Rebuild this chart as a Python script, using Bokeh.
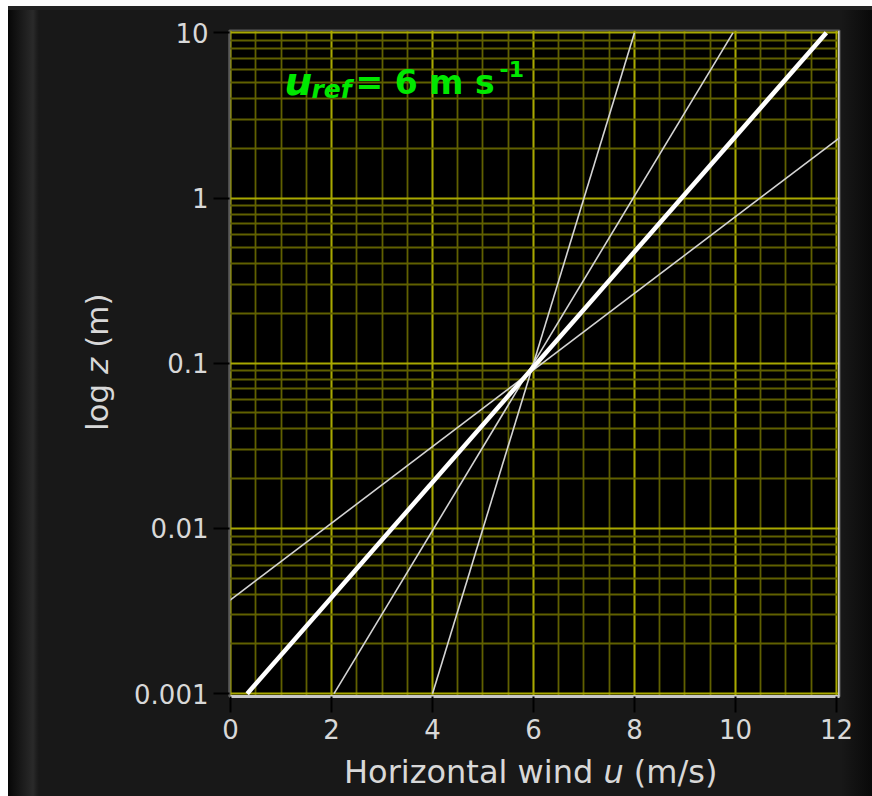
import math
from bokeh.plotting import figure
from bokeh.models import Label, Span, FixedTicker, SingleIntervalTicker, Range1d, Div
from bokeh.layouts import row, column
from bokeh.embed import file_html
from bokeh.resources import INLINE

# ---------------- data ----------------
Z_ENDS = [0.001, 10]            # heights (m) at which each profile is given
U_THICK = [0.33, 11.8]          # bold white profile
U_STEEP = [4.0, 8.0]            # thin profile 1
U_MID = [2.05, 9.95]            # thin profile 2
U_SHALLOW = [-2.45, 14.8]       # thin profile 3

X_TICKS = [0, 2, 4, 6, 8, 10, 12]
X_TICK_LABELS = ["0", "2", "4", "6", "8", "10", "12"]
Y_TICKS = [0.001, 0.01, 0.1, 1, 10]
Y_TICK_LABELS = ["0.001", "0.01", "0.1", "1", "10"]

X_TITLE = ["Horizontal wind", "u", "(m/s)"]
Y_TITLE = ["log", "z", "(m)"]
ANNOT = ["u", "ref", "= 6 m s", "-1"]

# ---------------- layout constants (window pixels) ----------------
OFF_L, OFF_T = 8, 6
YDIV_W = 120
XDIV_H = 44
TOTAL_W, TOTAL_H = 864, 790
FRAME_L, FRAME_T, FRAME_W, FRAME_H = 229, 30, 610, 666
X0, X1 = -0.02, 12.06
LOG_TOP, LOG_BOT = 1.014, -3.017
TXT_DY = -12   # correction for Bokeh's label baseline placement


def dx(px):
    return X0 + (px - FRAME_L) / FRAME_W * (X1 - X0)


def dy(py):
    return 10 ** (LOG_TOP - (py - FRAME_T) / FRAME_H * (LOG_TOP - LOG_BOT))


PW = TOTAL_W - YDIV_W
PH = TOTAL_H - XDIV_H
b_left = FRAME_L - OFF_L - YDIV_W
b_top = FRAME_T - OFF_T
p = figure(
    width=PW, height=PH,
    x_range=Range1d(X0, X1),
    y_range=Range1d(10 ** LOG_BOT, 10 ** LOG_TOP),
    y_axis_type="log",
    output_backend="svg",
    toolbar_location=None,
    min_border_left=b_left,
    min_border_right=PW - b_left - FRAME_W,
    min_border_top=b_top,
    min_border_bottom=PH - b_top - FRAME_H,
)
p.margin = (0, 0, 0, 0)
p.border_fill_color = None
p.background_fill_color = "black"
p.outline_line_color = "#5a5a5a"
p.outline_line_width = 2

# grids
MAJOR_GRID = "#a8a800"
MINOR_GRID = "#606000"
for g in (p.xgrid[0], p.ygrid[0]):
    g.grid_line_color = MAJOR_GRID
    g.grid_line_width = 1.8
    g.minor_grid_line_color = MINOR_GRID
    g.minor_grid_line_width = 1.8

# axes
p.xaxis.ticker = SingleIntervalTicker(interval=2, num_minor_ticks=4)
p.xaxis.major_label_overrides = {t: s for t, s in zip(X_TICKS, X_TICK_LABELS)}
minor_y = [k * 10 ** e for e in range(-3, 1) for k in range(2, 10)]
p.yaxis.ticker = FixedTicker(ticks=Y_TICKS, minor_ticks=minor_y)
p.yaxis.major_label_overrides = {t: s for t, s in zip(Y_TICKS, Y_TICK_LABELS)}

for ax in (p.xaxis[0], p.yaxis[0]):
    ax.major_tick_in = 0
    ax.major_tick_out = 16
    ax.major_tick_line_color = "#000000"
    ax.major_tick_line_width = 2
    ax.minor_tick_line_color = None
    ax.major_label_text_font = "DejaVu Sans"
    ax.major_label_text_font_size = "26px"
    ax.major_label_text_color = "#d8d8d8"
p.xaxis.major_label_standoff = 6
p.yaxis.major_label_standoff = 5
p.xaxis.axis_line_color = "#c8c8c8"
p.xaxis.axis_line_width = 3
p.yaxis.axis_line_color = "#5a5a5a"
p.yaxis.axis_line_width = 2
p.add_layout(Span(location=X1, dimension="height", line_color="#c8c8c8", line_width=3))

# profiles
THIN = "#d4d4d4"
p.line(U_SHALLOW, Z_ENDS, line_color=THIN, line_width=1.6)
p.line(U_MID, Z_ENDS, line_color=THIN, line_width=1.6)
p.line(U_STEEP, Z_ENDS, line_color=THIN, line_width=1.6)
p.line(U_THICK, Z_ENDS, line_color="white", line_width=4.5)


def label(text, px, py, size, style="bold", color="#00e800", font="DejaVu Sans"):
    p.add_layout(Label(x=dx(px), y=dy(py + TXT_DY), text=text, text_font=font,
                       text_font_size=size, text_font_style=style,
                       text_color=color, text_align="left",
                       text_baseline="alphabetic"))


# annotation inside the plot
label(ANNOT[0], 284, 93, "39px", style="bold italic")
label(ANNOT[1], 311, 101, "25px", style="bold italic")
label(ANNOT[2], 355, 94, "33px")
label(ANNOT[3], 499, 80, "22px")

# axis titles as HTML (mixed upright / italic)
TITLE_CSS = "font-family:'DejaVu Sans';color:#d8d8d8;white-space:nowrap;width:max-content;"
x_tx = 344 - (OFF_L + YDIV_W)
x_ty = 756 - (OFF_T + PH)
xdiv = Div(
    width=PW, height=XDIV_H, margin=(0, 0, 0, 0),
    text=(f'<div style="{TITLE_CSS}font-size:32px;line-height:32px;'
          f'transform:translate({x_tx}px,{x_ty}px);">'
          f'{X_TITLE[0]} <i>{X_TITLE[1]}</i> {X_TITLE[2]}</div>'),
)
y_L = 108 - 26.2 - OFF_L
y_T = 431 - OFF_T
ydiv = Div(
    width=YDIV_W, height=TOTAL_H, margin=(0, 0, 0, 0),
    text=(f'<div style="{TITLE_CSS}font-size:31px;line-height:31px;'
          f'transform-origin:0 0;transform:translate({y_L}px,{y_T}px) rotate(-90deg);">'
          f'{Y_TITLE[0]} <i>{Y_TITLE[1]}</i> {Y_TITLE[2]}</div>'),
)

col = column(p, xdiv, spacing=0)
col.margin = (0, 0, 0, 0)
layout = row(ydiv, col, spacing=0)
layout.margin = (OFF_T, 0, 0, OFF_L)
layout.styles = {
    "background": "linear-gradient(to right, #060606 0px, #0e0e0e 5px, #232323 20px, "
                  "#2a2a2a 25px, #202020 28px, #181818 31px, #181818 833px, "
                  "#101010 850px, #090909 864px)",
    "box-shadow": "inset 0 4px 0 #232323",
}

open("out.html", "w").write(file_html(layout, INLINE))
